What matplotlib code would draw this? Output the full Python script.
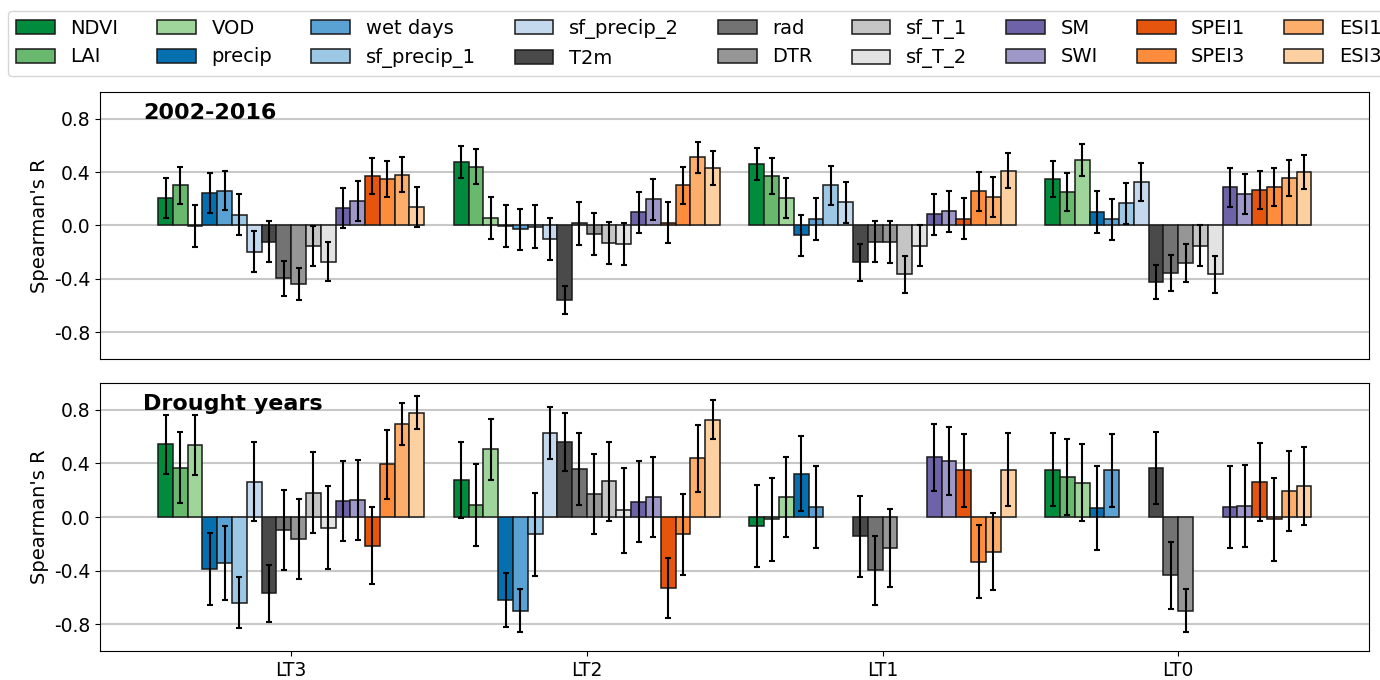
from matplotlib import pyplot as plt
import numpy as np

plt.rcParams['axes.unicode_minus'] = False

variables = ['NDVI', 'LAI', 'VOD', 'precip', 'wet days', 'sf_precip_1', 'sf_precip_2',
             'T2m', 'rad', 'DTR', 'sf_T_1', 'sf_T_2', 'SM', 'SWI',
             'SPEI1', 'SPEI3', 'ESI1', 'ESI3']
colors = ['#008c3c', '#68b86e', '#9fd49a', '#0570b0', '#5aa2d3', '#9cc8e5', '#c4d8ee',
          '#4a4a4a', '#737373', '#969696', '#c5c5c5', '#e3e3e3', '#6e63a8', '#9e98c8',
          '#e6550d', '#fd8d3c', '#fdae6b', '#fdd0a2']
lead_times = ['LT3', 'LT2', 'LT1', 'LT0']
nan = np.nan

# 2002-2016
all_lt3 = [0.205, 0.30, -0.005, 0.24, 0.26, 0.08, -0.195, -0.12, -0.395, -0.44, -0.155, -0.27, 0.13, 0.185, 0.37, 0.35, 0.38, 0.135]
all_lt3_err = [0.15, 0.14, 0.155, 0.15, 0.145, 0.155, 0.15, 0.15, 0.13, 0.12, 0.15, 0.146, 0.15, 0.15, 0.135, 0.135, 0.13, 0.15]
all_lt2 = [0.478, 0.44, 0.055, -0.004, -0.03, -0.01, -0.10, -0.56, 0.015, -0.063, -0.133, -0.14, 0.10, 0.195, 0.022, 0.30, 0.51, 0.43]
all_lt2_err = [0.12, 0.13, 0.155, 0.16, 0.155, 0.16, 0.157, 0.106, 0.16, 0.155, 0.156, 0.156, 0.154, 0.155, 0.154, 0.14, 0.115, 0.125]
all_lt1 = [0.46, 0.37, 0.205, -0.075, 0.048, 0.30, 0.175, -0.275, -0.12, -0.125, -0.365, -0.153, 0.083, 0.105, 0.052, 0.258, 0.215, 0.41]
all_lt1_err = [0.12, 0.135, 0.15, 0.157, 0.155, 0.145, 0.154, 0.14, 0.153, 0.155, 0.14, 0.153, 0.154, 0.156, 0.154, 0.146, 0.15, 0.13]
all_lt0 = [0.348, 0.25, 0.49, 0.10, 0.045, 0.165, 0.325, -0.425, -0.358, -0.283, -0.15, -0.365, 0.285, 0.235, 0.265, 0.29, 0.358, 0.40]
all_lt0_err = [0.135, 0.144, 0.118, 0.157, 0.155, 0.155, 0.143, 0.128, 0.135, 0.143, 0.155, 0.14, 0.145, 0.15, 0.145, 0.143, 0.135, 0.13]

# Drought years
dry_lt3 = [0.545, 0.37, 0.537, -0.387, -0.343, -0.64, 0.265, -0.57, -0.095, -0.165, 0.183, -0.078, 0.122, 0.128, -0.213, 0.393, 0.695, 0.78]
dry_lt3_err = [0.22, 0.265, 0.224, 0.27, 0.274, 0.19, 0.296, 0.21, 0.30, 0.30, 0.305, 0.31, 0.30, 0.30, 0.29, 0.26, 0.16, 0.124]
dry_lt2 = [0.275, 0.09, 0.505, -0.617, -0.698, -0.13, 0.63, 0.56, 0.358, 0.17, 0.268, 0.05, 0.115, 0.15, -0.53, -0.13, 0.44, 0.727]
dry_lt2_err = [0.283, 0.306, 0.23, 0.20, 0.16, 0.31, 0.195, 0.214, 0.27, 0.30, 0.294, 0.316, 0.30, 0.30, 0.225, 0.30, 0.25, 0.147]
dry_lt1 = [-0.07, -0.015, 0.15, 0.325, 0.073, nan, nan, -0.145, -0.398, -0.233, nan, nan, 0.445, 0.42, 0.348, -0.333, -0.258, 0.355]
dry_lt1_err = [0.306, 0.31, 0.30, 0.28, 0.305, nan, nan, 0.30, 0.26, 0.29, nan, nan, 0.25, 0.255, 0.275, 0.274, 0.29, 0.27]
dry_lt0 = [0.355, 0.30, 0.258, 0.068, 0.348, nan, nan, 0.368, -0.433, -0.70, nan, nan, 0.073, 0.08, 0.263, -0.018, 0.193, 0.233]
dry_lt0_err = [0.27, 0.283, 0.29, 0.315, 0.275, nan, nan, 0.27, 0.25, 0.16, nan, nan, 0.305, 0.305, 0.29, 0.31, 0.30, 0.29]

panels = [('2002-2016', [all_lt3, all_lt2, all_lt1, all_lt0],
           [all_lt3_err, all_lt2_err, all_lt1_err, all_lt0_err]),
          ('Drought years', [dry_lt3, dry_lt2, dry_lt1, dry_lt0],
           [dry_lt3_err, dry_lt2_err, dry_lt1_err, dry_lt0_err])]

fig = plt.figure(figsize=(13.8, 6.8), dpi=100)
ax_top = fig.add_axes([0.0728, 0.4721, 0.9192, 0.3926])
ax_bot = fig.add_axes([0.0728, 0.0426, 0.9192, 0.3940])
axes = [ax_top, ax_bot]

nv = len(variables)
width = 0.05
groups = np.arange(len(lead_times))

for ax, (title, vals, errs) in zip(axes, panels):
    vals = np.array(vals)
    errs = np.array(errs)
    for i in range(nv):
        x = groups + (i - (nv - 1) / 2) * width
        ax.bar(x, vals[:, i], width, color=colors[i], edgecolor='#1a1a1a',
               linewidth=1.1, label=variables[i], zorder=2)
        ax.errorbar(x, vals[:, i], yerr=errs[:, i], fmt='none', ecolor='black',
                    elinewidth=1.5, capsize=2.3, capthick=1.5, zorder=3)
    ax.set_ylim(-1, 1)
    ax.set_yticks([-0.8, -0.4, 0.0, 0.4, 0.8])
    ax.set_yticklabels(['-0.8', '-0.4', '0.0', '0.4', '0.8'])
    ax.yaxis.grid(True, color='#c8c8c8', linewidth=1.5, zorder=0)
    ax.set_axisbelow(True)
    ax.set_ylabel("Spearman's R", fontsize=14)
    ax.tick_params(labelsize=13.5)
    ax.set_xticks(groups)
    ax.text(0.0335, 0.899, title, transform=ax.transAxes, fontsize=16,
            fontweight='bold', va='baseline', ha='left', zorder=5)

ax_top.tick_params(axis='x', bottom=False, labelbottom=False)
ax_bot.set_xticklabels(lead_times)

handles, labels = ax_top.get_legend_handles_labels()
fig.legend(handles, labels, ncol=9, fontsize=14, loc='upper left',
           bbox_to_anchor=(8 / 1380, 1 - 11 / 680), borderaxespad=0)

fig.savefig('out.png', dpi=100)
